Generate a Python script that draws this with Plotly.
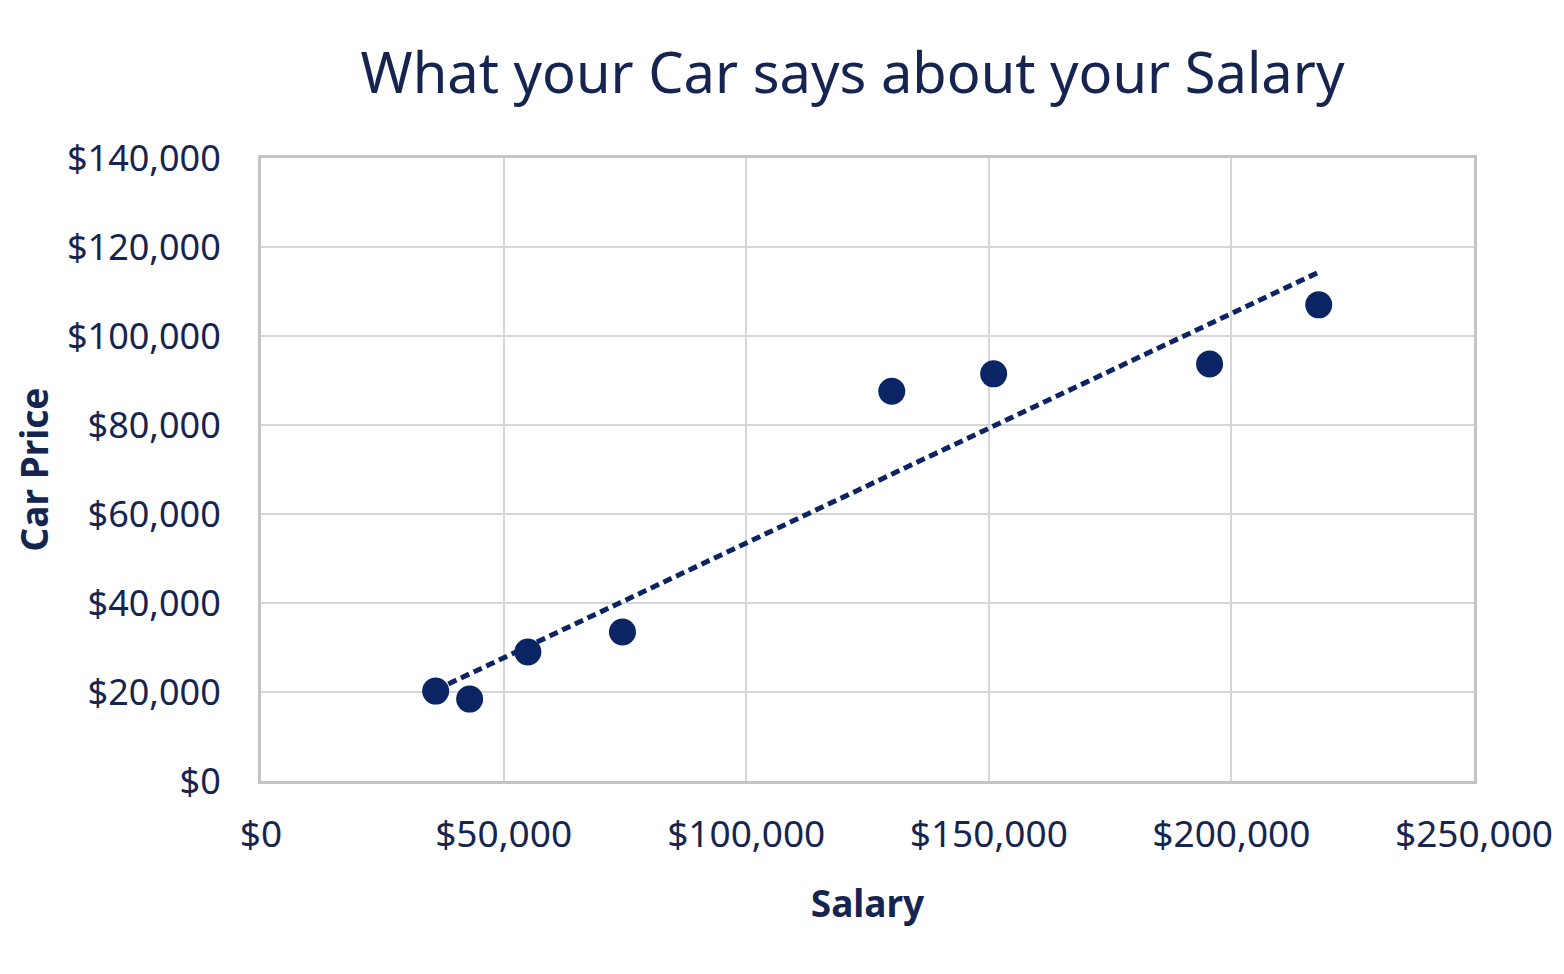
import numpy as np
import plotly.graph_objects as go

salary = [36000, 43000, 55000, 74500, 130000, 151000, 195500, 218000]
car_price = [20200, 18400, 29000, 33500, 87600, 91500, 93700, 107000]

x_ticks = [0, 50000, 100000, 150000, 200000, 250000]
x_labels = ["$0", "$50,000", "$100,000", "$150,000", "$200,000", "$250,000"]
y_ticks = [0, 20000, 40000, 60000, 80000, 100000, 120000, 140000]
y_labels = ["$0", "$20,000", "$40,000", "$60,000", "$80,000", "$100,000", "$120,000", "$140,000"]

navy = "#0b2463"
text_col = "#16254f"
grid = "#d6d6d6"

slope, intercept = np.polyfit(salary, car_price, 1)
tx = [min(salary), max(salary)]
ty = [slope * v + intercept for v in tx]

fig = go.Figure()
fig.add_trace(go.Scatter(x=tx, y=ty, mode="lines",
                         line=dict(color=navy, width=5, dash="9px,5px"),
                         hoverinfo="skip", showlegend=False))
fig.add_trace(go.Scatter(x=salary, y=car_price, mode="markers",
                         marker=dict(color=navy, size=27, line=dict(width=0)),
                         showlegend=False))

font = "Noto Sans, Open Sans, sans-serif"
fig.update_layout(
    width=1564, height=974,
    margin=dict(l=253, r=98, t=150, b=201, autoexpand=False),
    paper_bgcolor="white", plot_bgcolor="white",
    font=dict(family=font, color=text_col, size=36),
    title=dict(text="What your Car says about your Salary", x=0.54, xanchor="center",
               y=1 - 65 / 974, yanchor="middle",
               font=dict(size=56, color=text_col, family=font)),
)
fig.update_xaxes(range=[0, 250000], tickvals=x_ticks, ticktext=x_labels,
                 showgrid=True, gridcolor=grid, gridwidth=2,
                 showline=True, linecolor="#c4c4c4", linewidth=3, mirror=True,
                 zeroline=False, ticks="", ticklabelstandoff=19,
                 tickfont=dict(size=37, color=text_col),
                 title=dict(text="<b>Salary</b>", standoff=34,
                            font=dict(size=37, color=text_col)))
fig.update_yaxes(range=[0, 140000], tickvals=y_ticks, ticktext=y_labels,
                 showgrid=True, gridcolor=grid, gridwidth=2,
                 showline=True, linecolor="#c4c4c4", linewidth=3, mirror=True,
                 zeroline=False, ticks="", ticklabelstandoff=30, automargin=True,
                 tickfont=dict(size=36, color=text_col),
                 title=dict(text="<b>Car Price</b>", standoff=22,
                            font=dict(size=37, color=text_col)))

fig.write_html("out.html")
